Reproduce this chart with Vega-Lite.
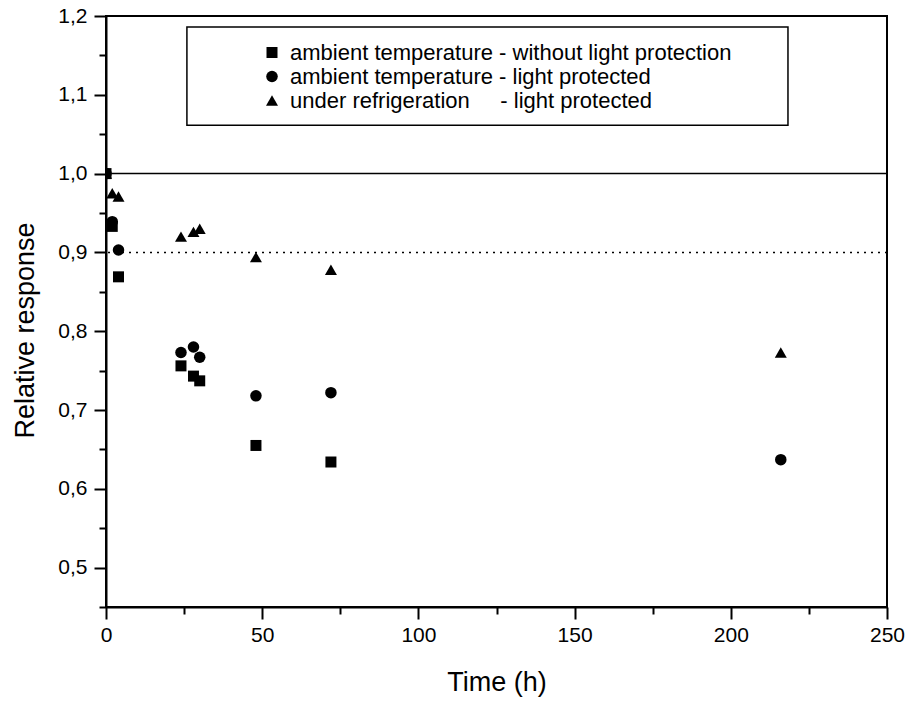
{
  "$schema": "https://vega.github.io/schema/vega-lite/v6.json",
  "width": 781,
  "height": 591,
  "autosize": {"type": "none"},
  "padding": {"left": 106, "top": 16, "right": 25, "bottom": 95},
  "background": "white",
  "config": {
    "locale": {"number": {"decimal": ",", "thousands": ".", "grouping": [3], "currency": ["", " €"]}},
    "view": {"stroke": "black", "strokeWidth": 2},
    "font": "Liberation Sans",
    "axis": {
      "grid": false,
      "domainColor": "black",
      "domainWidth": 2,
      "tickColor": "black",
      "tickWidth": 2,
      "labelFont": "Liberation Sans",
      "labelFontSize": 21,
      "labelColor": "black",
      "titleFont": "Liberation Sans",
      "titleFontSize": 27,
      "titleFontWeight": "normal",
      "titleColor": "black",
      "labelOverlap": false,
      "labelFlush": false
    },
    "legend": {
      "labelFont": "Liberation Sans",
      "labelFontSize": 22,
      "labelColor": "black",
      "labelLimit": 700
    }
  },
  "data": {
    "values": [
      {"time": 0, "response": 1.0, "series": "ambient temperature - without light protection"},
      {"time": 2, "response": 0.933, "series": "ambient temperature - without light protection"},
      {"time": 4, "response": 0.869, "series": "ambient temperature - without light protection"},
      {"time": 24, "response": 0.756, "series": "ambient temperature - without light protection"},
      {"time": 28, "response": 0.743, "series": "ambient temperature - without light protection"},
      {"time": 30, "response": 0.737, "series": "ambient temperature - without light protection"},
      {"time": 48, "response": 0.655, "series": "ambient temperature - without light protection"},
      {"time": 72, "response": 0.634, "series": "ambient temperature - without light protection"},
      {"time": 0, "response": 1.0, "series": "ambient temperature - light protected"},
      {"time": 2, "response": 0.939, "series": "ambient temperature - light protected"},
      {"time": 4, "response": 0.903, "series": "ambient temperature - light protected"},
      {"time": 24, "response": 0.773, "series": "ambient temperature - light protected"},
      {"time": 28, "response": 0.780, "series": "ambient temperature - light protected"},
      {"time": 30, "response": 0.767, "series": "ambient temperature - light protected"},
      {"time": 48, "response": 0.718, "series": "ambient temperature - light protected"},
      {"time": 72, "response": 0.722, "series": "ambient temperature - light protected"},
      {"time": 216, "response": 0.637, "series": "ambient temperature - light protected"},
      {"time": 0, "response": 1.0, "series": "under refrigeration - light protected"},
      {"time": 2, "response": 0.975, "series": "under refrigeration - light protected"},
      {"time": 4, "response": 0.971, "series": "under refrigeration - light protected"},
      {"time": 24, "response": 0.920, "series": "under refrigeration - light protected"},
      {"time": 28, "response": 0.926, "series": "under refrigeration - light protected"},
      {"time": 30, "response": 0.930, "series": "under refrigeration - light protected"},
      {"time": 48, "response": 0.894, "series": "under refrigeration - light protected"},
      {"time": 72, "response": 0.878, "series": "under refrigeration - light protected"},
      {"time": 216, "response": 0.773, "series": "under refrigeration - light protected"}
    ]
  },
  "resolve": {"axis": {"x": "independent", "y": "independent"}},
  "layer": [
    {
      "data": {"values": [{}]},
      "mark": {"type": "rect", "fill": "white", "stroke": "black", "strokeWidth": 1.5},
      "encoding": {
        "x": {
          "datum": 25.9, "type": "quantitative",
          "axis": {"orient": "bottom", "values": [25, 75, 125, 175, 225], "tickSize": 7, "labels": false, "domain": false, "title": null}
        },
        "x2": {"datum": 218.3},
        "y": {
          "datum": 1.186, "type": "quantitative",
          "axis": {"orient": "left", "values": [0.45, 0.55, 0.65, 0.75, 0.85, 0.95, 1.05, 1.15], "tickSize": 7, "labels": false, "domain": false, "title": null}
        },
        "y2": {"datum": 1.0614}
      }
    },
    {
      "data": {"values": [{}]},
      "mark": {"type": "rule", "color": "black", "strokeWidth": 1.5},
      "encoding": {"y": {"datum": 1.0, "type": "quantitative", "axis": null}}
    },
    {
      "data": {"values": [{}]},
      "mark": {"type": "rule", "color": "black", "strokeWidth": 1.5, "strokeDash": [2, 5]},
      "encoding": {"y": {"datum": 0.9, "type": "quantitative", "axis": null}}
    },
    {
      "mark": {"type": "point", "filled": true, "opacity": 1, "color": "black", "clip": true},
      "encoding": {
        "x": {
          "field": "time",
          "type": "quantitative",
          "title": "Time (h)",
          "scale": {"domain": [0, 250], "nice": false, "zero": false},
          "axis": {
            "orient": "bottom",
            "values": [0, 50, 100, 150, 200, 250],
            "format": "d",
            "ticks": true,
            "tickColor": "black",
            "tickWidth": 2,
            "tickSize": 12,
            "labelPadding": 5,
            "titleX": 390.5,
            "titleY": 83,
            "titleBaseline": "alphabetic",
            "titleAlign": "center"
          }
        },
        "y": {
          "field": "response",
          "type": "quantitative",
          "title": "Relative response",
          "scale": {"domain": [0.45, 1.2], "nice": false, "zero": false},
          "axis": {
            "orient": "left",
            "values": [0.5, 0.6, 0.7, 0.8, 0.9, 1.0, 1.1, 1.2],
            "format": ".1f",
            "ticks": true,
            "tickColor": "black",
            "tickWidth": 2,
            "tickSize": 12,
            "labelPadding": 7,
            "titleX": -73,
            "titleY": 314,
            "titleAngle": 270,
            "titleBaseline": "alphabetic",
            "titleAlign": "center"
          }
        },
        "shape": {
          "field": "series",
          "type": "nominal",
          "title": null,
          "scale": {
            "domain": ["ambient temperature - without light protection", "ambient temperature - light protected", "under refrigeration - light protected"],
            "range": ["square", "circle", "triangle-up"]
          },
          "legend": {
            "orient": "none",
            "legendX": 155,
            "legendY": 25.5,
            "padding": 0,
            "strokeColor": null,
            "symbolFillColor": "black",
            "symbolStrokeColor": "black",
            "symbolStrokeWidth": 0,
            "labelOffset": 7,
            "rowPadding": 2,
            "labelExpr": "datum.label == 'under refrigeration - light protected' ? 'under refrigeration\u00a0\u00a0\u00a0\u00a0\u00a0- light protected' : datum.label"
          }
        },
        "size": {
          "field": "series",
          "type": "nominal",
          "title": null,
          "scale": {
            "domain": ["ambient temperature - without light protection", "ambient temperature - light protected", "under refrigeration - light protected"],
            "range": [121, 144, 225]
          },
          "legend": {
            "orient": "none",
            "legendX": 155,
            "legendY": 25.5,
            "padding": 0,
            "strokeColor": null,
            "symbolFillColor": "black",
            "symbolStrokeColor": "black",
            "symbolStrokeWidth": 0,
            "labelOffset": 7,
            "rowPadding": 2,
            "labelExpr": "datum.label == 'under refrigeration - light protected' ? 'under refrigeration\u00a0\u00a0\u00a0\u00a0\u00a0- light protected' : datum.label"
          }
        }
      }
    }
  ]
}
